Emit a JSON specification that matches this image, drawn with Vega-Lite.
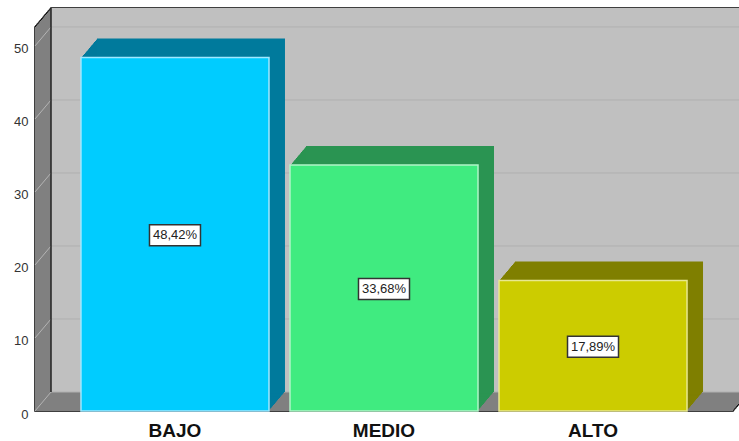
{"$schema":"https://vega.github.io/schema/vega-lite/v6.json","width":698,"height":384,"autosize":{"type":"none"},"padding":{"left":35,"top":27,"right":6,"bottom":30},"background":"white","config":{"view":{"stroke":null},"font":"Liberation Sans"},
"datasets":{"niveles":[{"nivel":"BAJO","porcentaje":48.42,"etiqueta":"48,42%"},{"nivel":"MEDIO","porcentaje":33.68,"etiqueta":"33,68%"},{"nivel":"ALTO","porcentaje":17.89,"etiqueta":"17,89%"}],"pared":[{"piso":0,"techo":52.6}],"marcas":[{"t":0},{"t":10},{"t":20},{"t":30},{"t":40},{"t":50}]},
"resolve":{"scale":{"y":"independent"},"axis":{"y":"independent"}},
"layer":[
{"layer":[
{"data":{"name":"pared"},"encoding":{"x":{"value":0},"x2":{"value":698},"y":{"field":"techo","type":"quantitative","scale":{"domain":[0,52.6],"nice":false},"axis":{"title":null,"values":[0,10,20,30,40,50],"labelFontSize":13,"labelColor":"#333","ticks":false,"domain":false,"grid":false,"labelPadding":7,"labelOffset":3}},"y2":{"field":"piso"}},
"layer":[
{"mark":{"type":"rect","fill":"black","stroke":"black","strokeWidth":1.5}},
{"mark":{"type":"rect","fill":"black","stroke":"black","strokeWidth":1.5,"xOffset":1,"x2Offset":1,"yOffset":-1.2,"y2Offset":-1.2}},
{"mark":{"type":"rect","fill":"black","stroke":"black","strokeWidth":1.5,"xOffset":2,"x2Offset":2,"yOffset":-2.4,"y2Offset":-2.4}},
{"mark":{"type":"rect","fill":"black","stroke":"black","strokeWidth":1.5,"xOffset":3,"x2Offset":3,"yOffset":-3.6,"y2Offset":-3.6}},
{"mark":{"type":"rect","fill":"black","stroke":"black","strokeWidth":1.5,"xOffset":4,"x2Offset":4,"yOffset":-4.8,"y2Offset":-4.8}},
{"mark":{"type":"rect","fill":"black","stroke":"black","strokeWidth":1.5,"xOffset":5,"x2Offset":5,"yOffset":-5.9,"y2Offset":-5.9}},
{"mark":{"type":"rect","fill":"black","stroke":"black","strokeWidth":1.5,"xOffset":6,"x2Offset":6,"yOffset":-7.1,"y2Offset":-7.1}},
{"mark":{"type":"rect","fill":"black","stroke":"black","strokeWidth":1.5,"xOffset":7,"x2Offset":7,"yOffset":-8.3,"y2Offset":-8.3}},
{"mark":{"type":"rect","fill":"black","stroke":"black","strokeWidth":1.5,"xOffset":8,"x2Offset":8,"yOffset":-9.5,"y2Offset":-9.5}},
{"mark":{"type":"rect","fill":"black","stroke":"black","strokeWidth":1.5,"xOffset":9,"x2Offset":9,"yOffset":-10.7,"y2Offset":-10.7}},
{"mark":{"type":"rect","fill":"black","stroke":"black","strokeWidth":1.5,"xOffset":10,"x2Offset":10,"yOffset":-11.9,"y2Offset":-11.9}},
{"mark":{"type":"rect","fill":"black","stroke":"black","strokeWidth":1.5,"xOffset":11,"x2Offset":11,"yOffset":-13.1,"y2Offset":-13.1}},
{"mark":{"type":"rect","fill":"black","stroke":"black","strokeWidth":1.5,"xOffset":12,"x2Offset":12,"yOffset":-14.3,"y2Offset":-14.3}},
{"mark":{"type":"rect","fill":"black","stroke":"black","strokeWidth":1.5,"xOffset":13,"x2Offset":13,"yOffset":-15.4,"y2Offset":-15.4}},
{"mark":{"type":"rect","fill":"black","stroke":"black","strokeWidth":1.5,"xOffset":14,"x2Offset":14,"yOffset":-16.6,"y2Offset":-16.6}},
{"mark":{"type":"rect","fill":"black","stroke":"black","strokeWidth":1.5,"xOffset":15,"x2Offset":15,"yOffset":-17.8,"y2Offset":-17.8}},
{"mark":{"type":"rect","fill":"black","stroke":"black","strokeWidth":1.5,"xOffset":16,"x2Offset":16,"yOffset":-19,"y2Offset":-19}},
{"mark":{"type":"rect","fill":"#808080"}},
{"mark":{"type":"rect","fill":"#808080","xOffset":1,"x2Offset":1,"yOffset":-1.2,"y2Offset":-1.2}},
{"mark":{"type":"rect","fill":"#808080","xOffset":2,"x2Offset":2,"yOffset":-2.4,"y2Offset":-2.4}},
{"mark":{"type":"rect","fill":"#808080","xOffset":3,"x2Offset":3,"yOffset":-3.6,"y2Offset":-3.6}},
{"mark":{"type":"rect","fill":"#808080","xOffset":4,"x2Offset":4,"yOffset":-4.8,"y2Offset":-4.8}},
{"mark":{"type":"rect","fill":"#808080","xOffset":5,"x2Offset":5,"yOffset":-5.9,"y2Offset":-5.9}},
{"mark":{"type":"rect","fill":"#808080","xOffset":6,"x2Offset":6,"yOffset":-7.1,"y2Offset":-7.1}},
{"mark":{"type":"rect","fill":"#808080","xOffset":7,"x2Offset":7,"yOffset":-8.3,"y2Offset":-8.3}},
{"mark":{"type":"rect","fill":"#808080","xOffset":8,"x2Offset":8,"yOffset":-9.5,"y2Offset":-9.5}},
{"mark":{"type":"rect","fill":"#808080","xOffset":9,"x2Offset":9,"yOffset":-10.7,"y2Offset":-10.7}},
{"mark":{"type":"rect","fill":"#808080","xOffset":10,"x2Offset":10,"yOffset":-11.9,"y2Offset":-11.9}},
{"mark":{"type":"rect","fill":"#808080","xOffset":11,"x2Offset":11,"yOffset":-13.1,"y2Offset":-13.1}},
{"mark":{"type":"rect","fill":"#808080","xOffset":12,"x2Offset":12,"yOffset":-14.3,"y2Offset":-14.3}},
{"mark":{"type":"rect","fill":"#808080","xOffset":13,"x2Offset":13,"yOffset":-15.4,"y2Offset":-15.4}},
{"mark":{"type":"rect","fill":"#808080","xOffset":14,"x2Offset":14,"yOffset":-16.6,"y2Offset":-16.6}},
{"mark":{"type":"rect","fill":"#808080","xOffset":15,"x2Offset":15,"yOffset":-17.8,"y2Offset":-17.8}},
{"mark":{"type":"rect","fill":"#c0c0c0","xOffset":16,"x2Offset":16,"yOffset":-19,"y2Offset":-19}}
]},
{"data":{"name":"marcas"},"mark":{"type":"rule","stroke":"#b0b0b0","strokeWidth":1,"xOffset":16,"x2Offset":16,"yOffset":-19,"y2Offset":-19},"encoding":{"x":{"value":0},"x2":{"value":698},"y":{"field":"t","type":"quantitative"},"y2":{"field":"t"}}},
{"data":{"name":"marcas"},"mark":{"type":"rule","stroke":"#b4b4b4","strokeWidth":1,"y2Offset":-19},"encoding":{"x":{"value":0},"x2":{"value":16},"y":{"field":"t","type":"quantitative"},"y2":{"field":"t"}}},
{"data":{"name":"pared"},"mark":{"type":"rule","stroke":"#222","strokeWidth":1.5,"xOffset":16,"yOffset":-19,"y2Offset":-19},"encoding":{"x":{"value":0},"y":{"field":"techo","type":"quantitative"},"y2":{"field":"piso"}}},
{"data":{"name":"niveles"},"encoding":{"x":{"field":"nivel","type":"nominal","scale":{"domain":["BAJO","MEDIO","ALTO"],"paddingInner":0.1005,"paddingOuter":0.22},"axis":{"title":null,"labelAngle":0,"labelFontSize":19,"labelFontWeight":"bold","labelColor":"#111","ticks":false,"domain":false,"labelPadding":10,"grid":false}},"y":{"field":"porcentaje","type":"quantitative"},"color":{"field":"nivel","type":"nominal","legend":null,"scale":{"domain":["BAJO","MEDIO","ALTO"],"range":["#007a9c","#2a9452","#7f7f00"]}}},
"layer":[
{"mark":{"type":"bar","xOffset":1,"x2Offset":1,"yOffset":-1.2,"y2Offset":-1.2}},
{"mark":{"type":"bar","xOffset":2,"x2Offset":2,"yOffset":-2.4,"y2Offset":-2.4}},
{"mark":{"type":"bar","xOffset":3,"x2Offset":3,"yOffset":-3.6,"y2Offset":-3.6}},
{"mark":{"type":"bar","xOffset":4,"x2Offset":4,"yOffset":-4.8,"y2Offset":-4.8}},
{"mark":{"type":"bar","xOffset":5,"x2Offset":5,"yOffset":-5.9,"y2Offset":-5.9}},
{"mark":{"type":"bar","xOffset":6,"x2Offset":6,"yOffset":-7.1,"y2Offset":-7.1}},
{"mark":{"type":"bar","xOffset":7,"x2Offset":7,"yOffset":-8.3,"y2Offset":-8.3}},
{"mark":{"type":"bar","xOffset":8,"x2Offset":8,"yOffset":-9.5,"y2Offset":-9.5}},
{"mark":{"type":"bar","xOffset":9,"x2Offset":9,"yOffset":-10.7,"y2Offset":-10.7}},
{"mark":{"type":"bar","xOffset":10,"x2Offset":10,"yOffset":-11.9,"y2Offset":-11.9}},
{"mark":{"type":"bar","xOffset":11,"x2Offset":11,"yOffset":-13.1,"y2Offset":-13.1}},
{"mark":{"type":"bar","xOffset":12,"x2Offset":12,"yOffset":-14.3,"y2Offset":-14.3}},
{"mark":{"type":"bar","xOffset":13,"x2Offset":13,"yOffset":-15.4,"y2Offset":-15.4}},
{"mark":{"type":"bar","xOffset":14,"x2Offset":14,"yOffset":-16.6,"y2Offset":-16.6}},
{"mark":{"type":"bar","xOffset":15,"x2Offset":15,"yOffset":-17.8,"y2Offset":-17.8}},
{"mark":{"type":"bar","xOffset":16,"x2Offset":16,"yOffset":-19,"y2Offset":-19}}
]},
{"data":{"name":"niveles"},"mark":{"type":"bar","strokeWidth":1.5},"encoding":{"x":{"field":"nivel","type":"nominal"},"y":{"field":"porcentaje","type":"quantitative"},"fill":{"field":"nivel","type":"nominal","legend":null,"scale":{"domain":["BAJO","MEDIO","ALTO"],"range":["#00ccff","#40eb80","#cccc00"]}},"stroke":{"field":"nivel","type":"nominal","legend":null,"scale":{"domain":["BAJO","MEDIO","ALTO"],"range":["#a0e8ff","#b0f5c8","#e8e890"]}}}}
]},
{"data":{"name":"niveles"},"encoding":{"x":{"field":"nivel","type":"nominal"},"y":{"field":"porcentaje","type":"quantitative","scale":{"domain":[0,105.2],"nice":false},"axis":null}},
"layer":[
{"mark":{"type":"rect","width":51,"height":21,"fill":"white","stroke":"#333","strokeWidth":1.5,"yOffset":1,"y2Offset":1}},
{"mark":{"type":"text","fontSize":13,"color":"#222","yOffset":1},"encoding":{"text":{"field":"etiqueta"}}}
]}
]}
